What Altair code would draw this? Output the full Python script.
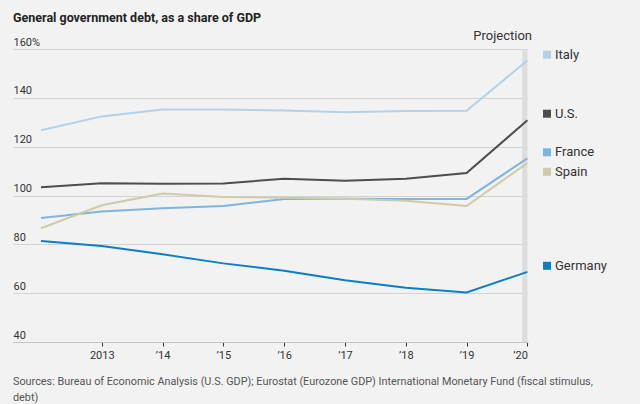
import altair as alt
import pandas as pd

years = [2012, 2013, 2014, 2015, 2016, 2017, 2018, 2019, 2020]
italy = [126.7, 132.4, 135.2, 135.2, 134.8, 134.1, 134.6, 134.7, 155.3]
us = [103.4, 105.0, 104.8, 104.9, 106.9, 106.0, 106.9, 109.2, 130.8]
france = [90.8, 93.4, 94.8, 95.7, 98.6, 98.7, 98.6, 98.6, 115.2]
spain = [86.6, 96.0, 100.8, 99.4, 99.1, 98.7, 97.8, 95.7, 113.3]
germany = [81.4, 79.3, 75.9, 72.2, 69.2, 65.3, 62.2, 60.3, 68.7]

countries = ["Italy", "U.S.", "France", "Spain", "Germany"]
colors = ["#b3d1e8", "#4d4d4d", "#7db5de", "#cfcaa8", "#0a7fc4"]
label_anchor = [157.7, 133.5, 117.7, 109.7, 71.2]

series = {"Italy": italy, "U.S.": us, "France": france, "Spain": spain, "Germany": germany}
rows = []
for c in countries:
    for yr, v in zip(years, series[c]):
        rows.append({"country": c, "year": yr, "value": v})
df = pd.DataFrame(rows)
lab = pd.DataFrame({"country": countries, "pos": label_anchor})

FONT = "Roboto"
xscale = alt.Scale(domain=[2011.54, 2020.01], nice=False, zero=False)
yscale = alt.Scale(domain=[40, 160], nice=False, zero=False)
cscale = alt.Scale(domain=countries, range=colors)

band = alt.Chart(pd.DataFrame({"a": [2019.915], "b": [2020.0], "lo": [40], "hi": [160]})).mark_rect(
    color="#dddddd"
).encode(
    x=alt.X("a:Q", scale=xscale, axis=alt.Axis(
        values=[2013, 2014, 2015, 2016, 2017, 2018, 2019, 2020],
        labelExpr="datum.value == 2013 ? '2013' : '\u2019' + substring(toString(datum.value), 2, 4)",
        title=None, grid=False, domainColor="#c4c4c4", tickColor="#333333", tickSize=4,
        labelFont=FONT, labelFontSize=11, labelColor="#333333", labelPadding=3,
    )),
    x2="b:Q",
    y=alt.Y("lo:Q", scale=yscale, axis=alt.Axis(
        values=[40, 60, 80, 100, 120, 140, 160],
        labelExpr="(datum.value < 100 ? '\u2007' : '') + datum.label + (datum.value == 160 ? '%' : '')",
        title=None, domain=False, ticks=False, tickSize=0, labelAlign="left", labelPadding=0,
        labelBaseline="bottom", labelOffset=-2, gridColor="#d3d3d3", gridWidth=1,
        labelFont=FONT, labelFontSize=11, labelColor="#333333",
    )),
    y2="hi:Q",
)

lines = alt.Chart(df).mark_line(strokeWidth=2).encode(
    x=alt.X("year:Q", scale=xscale),
    y=alt.Y("value:Q", scale=yscale),
    color=alt.Color("country:N", scale=cscale, legend=None),
    detail="country:N",
)

squares = alt.Chart(lab).mark_square(size=64, opacity=1).encode(
    x=alt.value(534),
    y=alt.Y("pos:Q", scale=yscale),
    color=alt.Color("country:N", scale=cscale, legend=None),
)
texts = alt.Chart(lab).mark_text(align="left", baseline="middle", font=FONT, fontSize=13, color="#333333").encode(
    x=alt.value(542),
    y=alt.Y("pos:Q", scale=yscale),
    text="country:N",
)

proj = alt.Chart(pd.DataFrame({"t": ["Projection"]})).mark_text(
    align="right", baseline="alphabetic", font=FONT, fontSize=13, color="#333333"
).encode(x=alt.value(519), y=alt.value(-9), text="t:N")

source = alt.Chart(pd.DataFrame({"t": ["Sources: Bureau of Economic Analysis (U.S. GDP); Eurostat (Eurozone GDP) International Monetary Fund (fiscal stimulus,\ndebt)"]})).mark_text(
    align="left", baseline="alphabetic", font=FONT, fontSize=10.85, color="#555555", lineBreak="\n", lineHeight=16
).encode(x=alt.value(0), y=alt.value(336), text="t:N")

chart = alt.layer(band, lines, squares, texts, proj, source).properties(
    width=515, height=293,
    title=alt.TitleParams("General government debt, as a share of GDP", anchor="start", font=FONT,
                          fontSize=12.5, fontWeight="bold", color="#222222", offset=6, frame="group"),
    background="#f2f2f2",
    padding={"left": 13, "top": 49, "right": 112, "bottom": 62},
    autosize=alt.AutoSizeParams(type="none"),
).configure_view(stroke=None)

chart.save("out.html", embed_options={"renderer": "svg", "actions": False})
